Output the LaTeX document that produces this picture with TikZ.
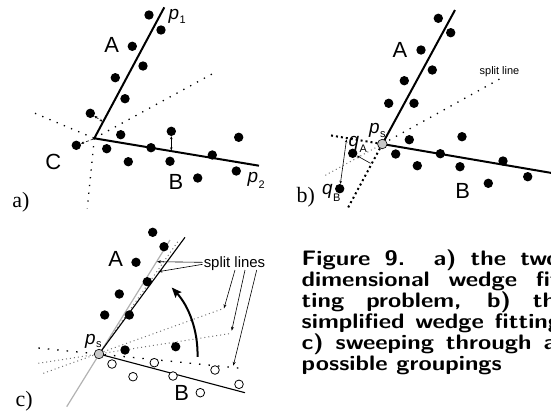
\documentclass[tikz,border=0pt]{standalone}
\usepackage{fontspec}
\newfontfamily\arialf{Liberation Sans}
\newfontfamily\serifl{Liberation Serif}
\usetikzlibrary{arrows.meta}
\begin{document}
\begin{tikzpicture}[x=1bp,y=-1bp,
  dot/.style={circle,fill=black,inner sep=0pt,minimum size=9.4bp},
  odot/.style={circle,draw=black,line width=0.8bp,fill=white,inner sep=0pt,minimum size=8.6bp},
  psdot/.style={circle,draw=black,line width=0.6bp,fill=black!22,inner sep=0pt,minimum size=9.5bp},
  fitline/.style={line width=2bp},
  thinfit/.style={line width=1.1bp},
  sparsedots/.style={line width=1.3bp,dash pattern=on 1.3bp off 6.5bp},
  heavydots/.style={line width=2bp,dash pattern=on 2bp off 3bp},
  faintdots/.style={line width=1bp,black!55,dash pattern=on 1bp off 3bp},
  smallarrow/.style={line width=0.6bp,{Stealth[length=3bp,width=2.6bp]}-{Stealth[length=3bp,width=2.6bp]}},
  onearrow/.style={line width=0.6bp,-{Stealth[length=3bp,width=2.6bp]}},
  leader/.style={line width=0.6bp,-{Stealth[length=4bp,width=3bp]}},
  biglbl/.style={font=\fontsize{22}{22}\selectfont\arialf,inner sep=0pt},
  plbl/.style={font=\fontsize{19}{19}\selectfont\arialf\itshape,inner sep=0pt,anchor=base west},
  sublbl/.style={font=\fontsize{11}{11}\selectfont\arialf,inner sep=0pt,anchor=base west},
  panlbl/.style={font=\fontsize{22}{22}\selectfont\serifl,inner sep=0pt},
  small/.style={font=\fontsize{11}{11}\selectfont\arialf,inner sep=0pt}
]
\useasboundingbox (0,0) rectangle (551,415);

% ---------------- panel a ----------------
\coordinate (aC) at (94.3,138.3);
\coordinate (aP1) at (164.3,7.3);
\coordinate (aP2) at (259,165.7);
\coordinate (aD1) at (35,113.3);
\coordinate (aD2) at (213.3,73.3);
\coordinate (aD3) at (87.3,208.3);
\draw[sparsedots] (aD1) -- (aC);
\draw[sparsedots] (aC) -- (aD2);
\draw[sparsedots] (aC) -- (aD3);
\draw[fitline] (aP1) -- (aC) -- (aP2);
\foreach \n/\x/\y in {1/149/15,2/161/30,3/132.3/46.3,4/143/66,5/115.3/77.7,6/125/98.7,
  7/90.3/113.3,8/120.7/134.7,9/171.3/131.3,10/238.7/137.3,11/76.3/145.3,12/106.7/148.7,
  13/151/147.7,14/212.3/155,15/128.3/161.7,16/170/161.3,17/236.3/171,18/197.7/178}
  \node[dot] (a\n) at (\x,\y) {};
\coordinate (aF7) at (102.5,121.5);
\coordinate (aF9) at (171.3,150.3);
\coordinate (aFC) at (93.5,139);
\draw[smallarrow,densely dashed] (a7) -- (aF7);
\draw[smallarrow] (a9) -- (aF9);
\draw[onearrow,densely dashed] (aFC) -- (a11);
\node[biglbl] (aA) at (111.7,45) {A};
\node[biglbl] (aCl) at (53.3,161.7) {C};
\node[biglbl] (aB) at (176,181.7) {B};
\node[plbl] (ap1) at (168.3,19.3) {p};
\node[sublbl] (ap1s) at (179.3,23.3) {1};
\node[plbl] (ap2) at (247.3,182.3) {p};
\node[sublbl] (ap2s) at (258.3,188.3) {2};
\node[panlbl] (alab) at (20.8,202) {a)};

% ---------------- panel b ----------------
\coordinate (bS) at (382.3,144);
\coordinate (bA) at (455,10);
\coordinate (bB) at (553,173.2);
\coordinate (bAx) at (347.7,208.3);
\coordinate (bBx) at (328.3,135);
\coordinate (bSp) at (505,76);
\coordinate (bSpx) at (325,175.5);
\draw[sparsedots] (bS) -- (bSp);
\draw[faintdots] (bS) -- (bSpx);
\draw[heavydots] (bS) -- (bAx);
\draw[heavydots] (bS) -- (bBx);
\draw[fitline] (bA) -- (bS) -- (bB);
\foreach \n/\x/\y in {1/438.3/18.3,2/450.7/32.7,3/421/50,4/432.3/70,5/404.3/80.7,6/414/103.3,
  7/388.7/103.3,8/409.3/139.7,9/462/136.7,10/395.7/154,11/440.3/153.7,12/503/161,
  13/417.3/165.7,14/460/166.7,15/527.7/176.7,16/488.3/183.3}
  \node[dot] (b\n) at (\x,\y) {};
\node[dot] (bqA) at (352.7,153.3) {};
\node[dot] (bqB) at (339.7,188.7) {};
\node[psdot] (bps) at (bS) {};
\coordinate (bFA) at (370.5,163.3);
\coordinate (bFB) at (346.5,139.5);
\draw[onearrow] (bFA) -- (bqA);
\draw[smallarrow] (bFB) -- (bqB);
\node[biglbl] (bAl) at (400,50) {A};
\node[biglbl] (bBl) at (462.7,191) {B};
\node[small] (bsplit) at (499.5,71.5) {split line};
\node[plbl] (bpsl) at (369,133) {p};
\node[sublbl] (bpss) at (380,137.5) {s};
\node[plbl] (bqAl) at (348.5,146) {q};
\node[sublbl] (bqAs) at (359.5,152) {A};
\node[plbl] (bqBl) at (322,194) {q};
\node[sublbl] (bqBs) at (333,201) {B};
\node[panlbl] (blab) at (305.8,197) {b)};

% ---------------- panel c ----------------
\coordinate (cS) at (99,354);
\coordinate (cA) at (185,237.3);
\coordinate (cB) at (245,392.7);
\coordinate (cG1) at (66.7,406.7);
\coordinate (cG2) at (170,240);
\coordinate (cH1) at (38.3,348);
\coordinate (cH2) at (243.3,368.5);
\coordinate (cF1a) at (38.3,363.3);
\coordinate (cF1b) at (231.7,333.3);
\coordinate (cF2a) at (43.3,373.3);
\coordinate (cF2b) at (224,308.3);
\coordinate (cF3) at (179,240);
\draw[line width=1.2bp,black!30] (cG1) -- (cG2);
\draw[faintdots] (cS) -- (cF3);
\draw[faintdots] (cF1a) -- (cF1b);
\draw[faintdots] (cF2a) -- (cF2b);
\draw[line width=1.3bp,dash pattern=on 1.5bp off 8bp] (cH1) -- (cH2);
\draw[thinfit] (cA) -- (cS) -- (cB);
\foreach \n/\x/\y in {1/152.7/232.3,2/164/246.7,3/136/262.3,4/147.3/281.7,5/119.3/294,
  6/129.3/315,7/104.7/315,8/125/350,9/175.7/346.7}
  \node[dot] (c\n) at (\x,\y) {};
\foreach \n/\x/\y in {1/112/364,2/154.3/362.7,3/133/376.7,4/173/376,5/215/370,6/239/384.3,7/200.3/392.7}
  \node[odot] (co\n) at (\x,\y) {};
\node[psdot] (cps) at (cS) {};
\draw[line width=2bp,-{Stealth[length=10bp,width=8bp,inset=1.5bp]}]
  (197.5,356.75) arc[start angle=1.6,end angle=-42.5,radius=98.5];
\node[biglbl] (cAl) at (115.8,259.2) {A};
\node[biglbl] (cBl) at (181.7,392.5) {B};
\node[font=\fontsize{15}{15}\selectfont\arialf,inner sep=0pt] (csplit) at (234.5,263.3) {split lines};
\coordinate (cT1) at (157,261.7);
\coordinate (cT2) at (158.3,271.7);
\coordinate (cT3) at (224,308.3);
\coordinate (cT4) at (231.7,330.7);
\coordinate (cT5) at (233.3,365.7);
\draw[leader] (csplit.west) ++(-1,-1) -- (cT1);
\draw[leader] (csplit.west) ++(-1,1) -- (cT2);
\draw[leader] (235,270) -- (cT3);
\draw[leader] (245,270) -- (cT4);
\draw[leader] (256.7,270) -- (cT5);
\node[plbl] (cpsl) at (85,344.5) {p};
\node[sublbl] (cpss) at (96,347.5) {s};
\node[panlbl] (clab) at (24.2,401) {c)};

% ---------------- caption ----------------
\node[anchor=north west,inner sep=0pt] (cap) at (301.5,250)
  {\scalebox{1.15}[1]{\parbox[t]{232bp}{\fontsize{21}{18.8}\selectfont\sffamily\bfseries
  Figure 9.\ \ a) the two-\linebreak dimensional wedge fit-\linebreak ting problem, b) the\linebreak simplified wedge fitting,\linebreak c) sweeping through all\linebreak possible groupings}}};
\end{tikzpicture}
\end{document}
